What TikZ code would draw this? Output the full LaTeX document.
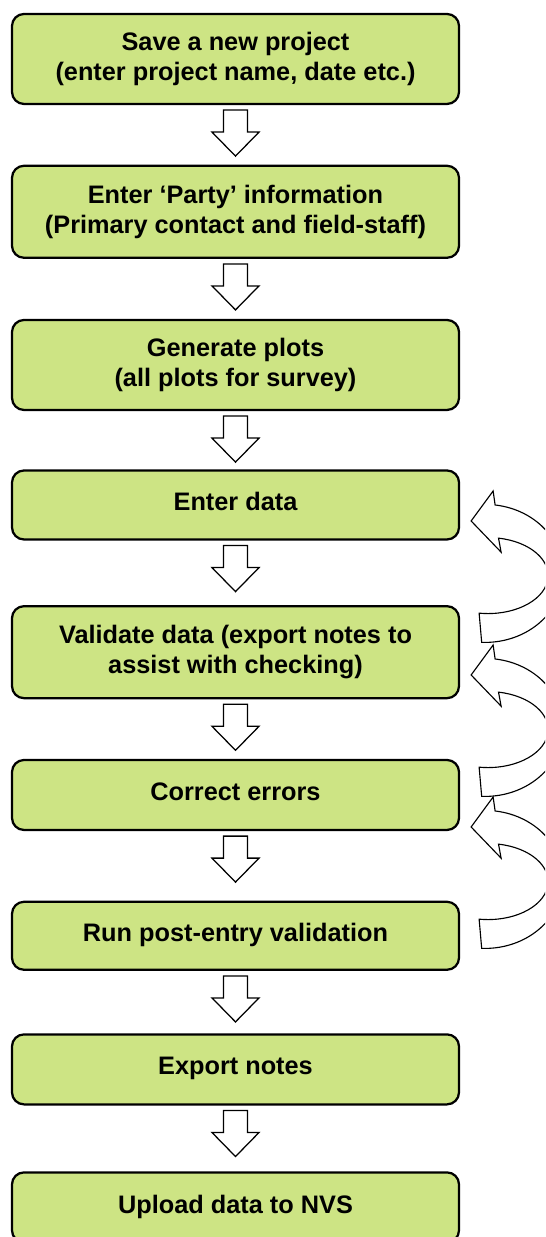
\documentclass[tikz,border=0pt]{standalone}
\usepackage{fontspec}
\setmainfont{Liberation Sans}
\usetikzlibrary{calc,positioning}
\definecolor{boxgreen}{RGB}{205,228,132}
\tikzset{
  stepbox/.style={draw, fill=boxgreen, line width=1.6pt, rounded corners=0.3cm,
    minimum width=11.175cm, inner sep=0pt, align=center,
    font=\fontsize{18}{21}\selectfont\bfseries},
  oneline/.style={text depth=0.45em},
  downline/.style={fill=white, line width=0.9pt, line join=miter},
  loopline/.style={fill=white, line width=0.8pt, line join=miter}
}
\def\stepdown#1{\draw[downline] ($(#1.south)+(-0.3,-0.125)$) -- ++(0.6,0) -- ++(0,-0.55)
  -- ++(0.2875,0) -- ++(-0.5875,-0.6) -- ++(-0.5875,0.6) -- ++(0.2875,0) -- cycle;}
\def\loopback#1{\draw[loopline] (#1) -- ++(0.55,0.75) -- ++(0.05,-0.35)
  arc[start angle=82.6, end angle=-92.5, x radius=1.95, y radius=1.725]
  -- ++(-0.064,0.73)
  arc[start angle=-98.6, end angle=80, x radius=1.5, y radius=0.95]
  -- ++(0.065,-0.35) -- cycle;}

\begin{document}
\begin{tikzpicture}
			%%%%% START %%%%%
			
			\clip (0, 0) rectangle (13.625, 30.925);
			
			\node[stepbox, minimum height=2.25cm] (b1) at (5.8875, 29.45) {Save a new project\\(enter project name, date etc.)};
			\node[stepbox, minimum height=2.3cm] (b2) at (5.8875, 25.63) {Enter ‘Party’ information\\(Primary contact and field-staff)};
			\node[stepbox, minimum height=2.25cm] (b3) at (5.8875, 21.8) {Generate plots\\(all plots for survey)};
			\node[stepbox, oneline, minimum height=1.725cm] (b4) at (5.8875, 18.3) {Enter data};
			\node[stepbox, minimum height=2.3cm] (b5) at (5.8875, 14.62) {Validate data (export notes to\\assist with checking)};
			\node[stepbox, oneline, minimum height=1.75cm] (b6) at (5.8875, 11.05) {Correct errors};
			\node[stepbox, oneline, minimum height=1.7cm] (b7) at (5.8875, 7.53) {Run post-entry validation};
			\node[stepbox, oneline, minimum height=1.75cm] (b8) at (5.8875, 4.19) {Export notes};
			\node[stepbox, oneline, minimum height=1.75cm] (b9) at (5.8875, 0.74) {Upload data to NVS};
			
			% down arrows
			\foreach \i in {1,...,8} {\stepdown{b\i}}
			
			% loops back
			\loopback{$(b4.east)+(0.275,-0.4)$}
			\loopback{$(b5.east)+(0.275,-0.57)$}
			\loopback{$(b6.east)+(0.275,-0.8)$}
			
			%%%%% END %%%%%
		\end{tikzpicture}
\end{document}
